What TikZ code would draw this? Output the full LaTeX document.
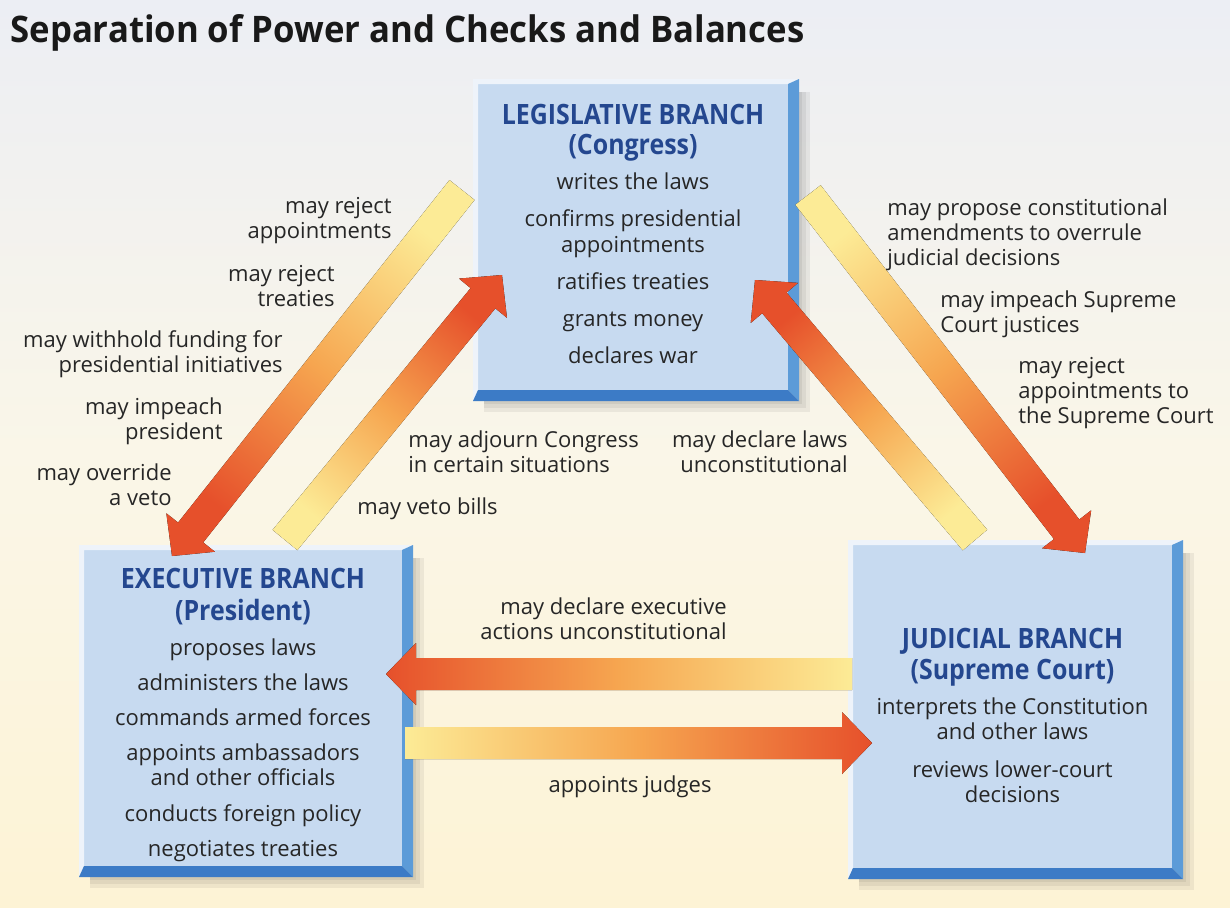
\documentclass[tikz,border=0pt]{standalone}
\usepackage{graphicx}
\usepackage{fontspec}
\setmainfont{Open Sans}
\usetikzlibrary{calc,positioning}

\definecolor{faceblue}{HTML}{C7DAF0}
\definecolor{bevellight}{HTML}{EEF3FA}
\definecolor{bevelside}{HTML}{5C9BD8}
\definecolor{bevelbottom}{HTML}{3C7BC6}
\definecolor{headblue}{HTML}{24478F}
\definecolor{inkgray}{HTML}{262626}
\definecolor{tailyellow}{HTML}{FCEB96}
\definecolor{midorange}{HTML}{F6A650}
\definecolor{headred}{HTML}{E6502B}
\definecolor{skytop}{HTML}{ECEEF4}
\definecolor{creammid}{HTML}{FAF6E8}
\definecolor{creambottom}{HTML}{FDF3D5}

\pgfdeclarelayer{bg}
\pgfdeclarelayer{shade}
\pgfsetlayers{bg,shade,main}

\tikzset{
  branch/.style={fill=faceblue, inner sep=0pt, outer sep=0pt},
  branchtext/.style={inner sep=0pt, align=center, text=inkgray, font=\fontsize{11}{12.6}\selectfont},
  check/.style={inner sep=0pt, text=inkgray, font=\fontsize{11}{12.6}\selectfont},
  arrowshade/.style={top color=headred, bottom color=tailyellow, middle color=midorange},
}

\newcommand{\branchhead}[1]{\textcolor{headblue}{\scalebox{0.89}[1]{\fontsize{14}{14}\selectfont\bfseries #1}}}

% raised frame round a branch box
\newcommand{\bevel}[1]{%
  \fill[bevellight] ([shift={(-5,-5)}]#1.north west) -- ([shift={(11,-5)}]#1.north east)
    -- (#1.north east) -- (#1.north west) -- (#1.south west) -- ([shift={(-5,11)}]#1.south west) -- cycle;
  \fill[bevelside] ([shift={(11,-5)}]#1.north east) -- ([shift={(11,11)}]#1.south east)
    -- (#1.south east) -- (#1.north east) -- cycle;
  \fill[bevelbottom] ([shift={(-5,11)}]#1.south west) -- ([shift={(11,11)}]#1.south east)
    -- (#1.south east) -- (#1.south west) -- cycle;
}

% broad shaded arrow: tail, tip, shading angle
\newcommand{\checkarrow}[3]{%
  \coordinate (ahbase) at ($(#2)!15pt!(#1)$);
  \fill[arrowshade, shading angle=#3]
    ($(#1)!8pt!90:(#2)$) -- ($(ahbase)!8pt!90:(#2)$) -- ($(ahbase)!15.5pt!90:(#2)$)
    -- (#2) -- ($(ahbase)!15.5pt!-90:(#2)$) -- ($(ahbase)!8pt!-90:(#2)$)
    -- ($(#1)!8pt!-90:(#2)$) -- cycle;
}

\begin{document}
\begin{tikzpicture}[x=0.5pt,y=-0.5pt]
  \useasboundingbox (0,0) rectangle (1230,907);
  \begin{pgfonlayer}{bg}
    \fill[top color=skytop, bottom color=creambottom, middle color=creammid] (0,0) rectangle (1230,907);
  \end{pgfonlayer}

  \node[anchor=base west, inner sep=0pt, text=black!90] (title) at (10,42)
    {\resizebox{397pt}{14pt}{\bfseries Separation of Power and Checks and Balances}};

  % the three branches
  \node[branch, minimum width=155pt, minimum height=153pt] (leg) at (633,237) {};
  \node[branch, minimum width=159pt, minimum height=158pt] (exe) at (243,708) {};
  \node[branch, minimum width=159.5pt, minimum height=161.5pt] (jud) at (1012.5,706.5) {};

  \node[branchtext] (legtext) at ([shift={(0,-3)}]leg.center)
    {\branchhead{LEGISLATIVE BRANCH}\\[2.4pt]
     \branchhead{(Congress)}\\[4.9pt]
     writes the laws\\[5.9pt]
     confirms presidential\\
     appointments\\[5.9pt]
     ratifies treaties\\[5.9pt]
     grants money\\[5.9pt]
     declares war};
  \node[branchtext] (exetext) at ([shift={(0,7)}]exe.center)
    {\branchhead{EXECUTIVE BRANCH}\\[3.4pt]
     \branchhead{(President)}\\[4.9pt]
     proposes laws\\[4.9pt]
     administers the laws\\[4.9pt]
     commands armed forces\\[4.9pt]
     appoints ambassadors\\
     and other officials\\[5.4pt]
     conducts foreign policy\\[4.9pt]
     negotiates treaties};
  \node[branchtext] (judtext) at ([shift={(0,9)}]jud.center)
    {\branchhead{JUDICIAL BRANCH}\\[1.4pt]
     \branchhead{(Supreme Court)}\\[4.9pt]
     interprets the Constitution\\
     and other laws\\[6.4pt]
     reviews lower-court\\
     decisions};

  \begin{pgfonlayer}{shade}
    \foreach \b in {leg,exe,jud}
      \foreach \s in {3,7,11}
        \fill[black, opacity=0.06] ([shift={(6,8)}]\b.north west) rectangle ([shift={(11+\s,11+\s)}]\b.south east);
  \end{pgfonlayer}
  \bevel{leg}
  \bevel{exe}
  \bevel{jud}

  % arrow ends
  \coordinate (legA) at ([shift={(-16,106)}]leg.north west);
  \coordinate (exeA) at ([shift={(88,6)}]exe.north west);
  \coordinate (exeB) at ([shift={(201,-10)}]exe.north west);
  \coordinate (legB) at ([shift={(24,191)}]leg.north west);
  \coordinate (legC) at ([shift={(20,111)}]leg.north east);
  \coordinate (judC) at ([shift={(232,8)}]jud.north west);
  \coordinate (judD) at ([shift={(122,-5)}]jud.north west);
  \coordinate (legD) at ([shift={(-33,196)}]leg.north east);
  \coordinate (judE) at ([shift={(-1,129)}]jud.north west);
  \coordinate (exeE) at ([shift={(-16,124)}]exe.north east);
  \coordinate (exeF) at ([shift={(3,193)}]exe.north east);
  \coordinate (judF) at ([shift={(19,198)}]jud.north west);

  \checkarrow{legA}{exeA}{141.6}
  \checkarrow{exeB}{legB}{-39.3}
  \checkarrow{legC}{judC}{-142.3}
  \checkarrow{judD}{legD}{40.2}
  \checkarrow{judE}{exeE}{90}
  \checkarrow{exeF}{judF}{-90}

  % checks written along the arrows
  \node[check, align=right, anchor=north east] (rejappt) at (392,197) {may reject\\appointments};
  \node[check, align=right, anchor=north east] (rejtreat) at (335,265) {may reject\\treaties};
  \node[check, align=right, anchor=north east] (withhold) at (283,330) {may withhold funding for\\presidential initiatives};
  \node[check, align=right, anchor=north east] (impeachpres) at (223,397) {may impeach\\president};
  \node[check, align=right, anchor=north east] (override) at (172,463) {may override\\a veto};
  \node[check, align=left, anchor=north west] (adjourn) at (408,430) {may adjourn Congress\\in certain situations};
  \node[check, anchor=north west] (vetobills) at (357,497) {may veto bills};
  \node[check, align=right, anchor=north east] (declarelaws) at (848,430) {may declare laws\\unconstitutional};
  \node[check, align=left, anchor=north west] (amend) at (887,198) {may propose constitutional\\amendments to overrule\\judicial decisions};
  \node[check, align=left, anchor=north west] (impeachjust) at (940,290) {may impeach Supreme\\Court justices};
  \node[check, align=left, anchor=north west] (rejjust) at (1018,357) {may reject\\appointments to\\the Supreme Court};
  \node[check, align=right, anchor=north east] (declareexec) at (727,597) {may declare executive\\actions unconstitutional};
  \node[check, anchor=north] (judges) at (630,775) {appoints judges};
\end{tikzpicture}
\end{document}
